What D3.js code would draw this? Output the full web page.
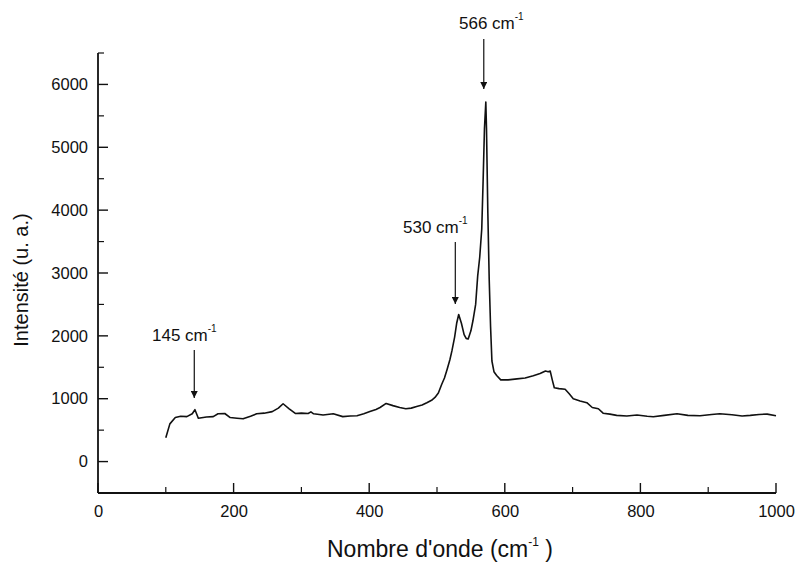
<!DOCTYPE html>
<html>
<head>
<meta charset="UTF-8" />
<title>Raman</title>
<style>
  body { margin: 0; background: #fff; }
  svg { font-family: "Liberation Sans", Arial, sans-serif; }
  .spectre { fill: none; stroke: #111; stroke-width: 1.6px; stroke-linejoin: round; }
  .fleche { stroke: #111; stroke-width: 1.2px; }
  .tick-mark { stroke: #111; }
</style>
<script src="https://d3js.org/d3.v7.min.js"></script>
</head>
<body>
<script>
// nombre d'onde (cm-1)
var wavenumber = [100, 106, 114, 122, 131, 139, 143, 148, 160, 170, 177, 187, 195, 205, 214, 225, 234, 245, 257, 266,
  273, 282, 291, 300, 310, 314, 318, 332, 347, 361, 372, 382, 392, 401, 410, 416, 425, 435, 445, 454,
  462, 470, 478, 485, 492, 497, 502, 507, 511, 515, 519, 522, 526, 529, 532, 536, 540, 543, 546, 550,
  553, 557, 560, 563, 566, 568, 570, 572, 573, 575, 577, 579, 581, 584, 588, 594, 605, 618, 630, 642,
  652, 660, 664, 667, 670, 673, 680, 689, 695, 701, 711, 721, 729, 738, 745, 755, 765, 780, 795, 810,
  819, 835, 854, 870, 888, 905, 917, 935, 950, 962, 975, 987, 1000];
// intensite (u. a.)
var intensity = [380, 600, 700, 720, 715, 760, 825, 690, 710, 715, 760, 765, 700, 690, 680, 720, 760, 770, 795, 850,
  920, 840, 765, 770, 765, 790, 760, 740, 760, 715, 725, 730, 760, 795, 830, 860, 925, 890, 860, 840,
  850, 875, 900, 935, 975, 1020, 1090, 1230, 1330, 1470, 1620, 1760, 1980, 2200, 2340, 2200, 2020, 1960, 1950, 2080,
  2240, 2500, 2950, 3250, 3700, 4460, 5300, 5720, 5300, 3950, 2900, 2150, 1600, 1430, 1370, 1300, 1300, 1315, 1330, 1365,
  1400, 1440, 1430, 1440, 1300, 1175, 1160, 1150, 1080, 1000, 965, 937, 860, 840, 770, 755, 735, 725, 740, 720,
  714, 735, 762, 735, 730, 750, 762, 745, 725, 735, 750, 755, 730];

var xMajor = [0, 200, 400, 600, 800, 1000];
var xMinor = [100, 300, 500, 700, 900];
var yMajor = [0, 1000, 2000, 3000, 4000, 5000, 6000];
var yMinor = [500, 1500, 2500, 3500, 4500, 5500, 6500];

var peakPos = [142, 527, 569];
var peakText = ["145 cm", "530 cm", "566 cm"];

var width = 797, height = 566;

var svg = d3.select("body").append("svg")
    .attr("width", width)
    .attr("height", height);

var x = d3.scaleLinear().domain([0, 1000]).range([98, 776]);
var y = d3.scaleLinear().domain([-500, 6500]).range([493, 53]);

// libelles des axes (via d3.axis, ticks dessines a part)
var xAxis = svg.append("g").attr("class", "axis")
    .attr("transform", "translate(0," + y(-500) + ")")
    .call(d3.axisBottom(x).tickValues(xMajor).tickSize(0).tickPadding(12).tickFormat(d3.format("d")));
var yAxis = svg.append("g").attr("class", "axis")
    .attr("transform", "translate(" + x(0) + ",0)")
    .call(d3.axisLeft(y).tickValues(yMajor).tickSize(0).tickPadding(10).tickFormat(d3.format("d")));
svg.selectAll(".axis .domain").remove();
svg.selectAll(".axis text")
    .attr("font-size", "16.5px")
    .attr("fill", "#111")
    .attr("font-family", "'Liberation Sans', Arial, sans-serif");

// graduations vers l'interieur
var x0 = x(0), yb = y(-500);
svg.selectAll(".xmaj").data(xMajor).enter().append("line")
    .attr("class", "tick-mark")
    .attr("x1", function(d) { return x(d); }).attr("x2", function(d) { return x(d); })
    .attr("y1", yb).attr("y2", yb - 10).attr("stroke-width", 1.4);
svg.selectAll(".xmin").data(xMinor).enter().append("line")
    .attr("class", "tick-mark")
    .attr("x1", function(d) { return x(d); }).attr("x2", function(d) { return x(d); })
    .attr("y1", yb).attr("y2", yb - 6).attr("stroke-width", 1.2);
svg.selectAll(".ymaj").data(yMajor).enter().append("line")
    .attr("class", "tick-mark")
    .attr("y1", function(d) { return y(d); }).attr("y2", function(d) { return y(d); })
    .attr("x1", x0).attr("x2", x0 + 10).attr("stroke-width", 1.4);
svg.selectAll(".ymin").data(yMinor).enter().append("line")
    .attr("class", "tick-mark")
    .attr("y1", function(d) { return y(d); }).attr("y2", function(d) { return y(d); })
    .attr("x1", x0).attr("x2", x0 + 6).attr("stroke-width", 1.2);

// lignes d'axe ouvertes (pas de boite)
svg.append("line").attr("x1", x(0)).attr("x2", x(1000)).attr("y1", yb).attr("y2", yb)
    .attr("stroke", "#111").attr("stroke-width", 1.8);
svg.append("line").attr("x1", x0).attr("x2", x0).attr("y1", yb).attr("y2", y(6500))
    .attr("stroke", "#111").attr("stroke-width", 1.8);

// spectre
var pts = wavenumber.map(function(d, i) { return [d, intensity[i]]; });
var line = d3.line()
    .x(function(d) { return x(d[0]); })
    .y(function(d) { return y(d[1]); });

svg.append("path")
    .datum(pts)
    .attr("class", "spectre")
    .attr("d", line);

// titres
var xt = svg.append("text")
    .attr("x", 440).attr("y", 557)
    .attr("text-anchor", "middle")
    .attr("font-size", "23px")
    .attr("fill", "#111");
xt.append("tspan").text("Nombre d'onde (cm");
xt.append("tspan").attr("font-size", "12px").attr("dy", -11).text("-1");
xt.append("tspan").attr("dy", 11).text(" )");

svg.append("text")
    .attr("transform", "translate(28,280) rotate(-90)")
    .attr("text-anchor", "middle")
    .attr("font-size", "20px")
    .attr("fill", "#111")
    .text("Intensité (u. a.)");

// annotations des pics
var arrowTop = [350, 242, 39];
var arrowBot = [398, 304, 89];
var labelX = [152, 403, 459];
var labelY = [341, 233, 29];

svg.append("defs").append("marker")
    .attr("id", "tete")
    .attr("viewBox", "0 0 10 10")
    .attr("refX", 10).attr("refY", 5)
    .attr("markerWidth", 10).attr("markerHeight", 7)
    .attr("markerUnits", "userSpaceOnUse")
    .attr("orient", "auto")
    .append("path")
    .attr("d", "M0,0 L10,5 L0,10 Z")
    .attr("fill", "#111");

var ann = svg.selectAll(".ann")
    .data(peakPos)
    .enter().append("g")
    .attr("class", "ann");

ann.append("line")
    .attr("class", "fleche")
    .attr("x1", function(d) { return x(d); })
    .attr("x2", function(d) { return x(d); })
    .attr("y1", function(d, i) { return arrowTop[i]; })
    .attr("y2", function(d, i) { return arrowBot[i]; })
    .attr("marker-end", "url(#tete)");

var lab = ann.append("text")
    .attr("x", function(d, i) { return labelX[i]; })
    .attr("y", function(d, i) { return labelY[i]; })
    .attr("font-size", "17px")
    .attr("fill", "#111");
lab.append("tspan").text(function(d, i) { return peakText[i]; });
lab.append("tspan").attr("font-size", "10px").attr("dy", -9).text("-1");
</script>
</body>
</html>
